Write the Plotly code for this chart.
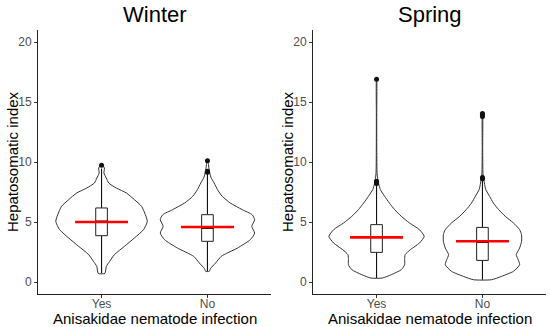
import plotly.graph_objects as go

# ---------------- data ----------------
seasons = ["Winter", "Spring"]
groups = ["Yes", "No"]

# violin density profiles (y level, relative density)
winter_yes_y = [0.72, 1.3, 1.72, 2.28, 2.97, 3.67, 4.36, 5.05, 5.6, 6.3, 6.86, 7.42, 7.83, 8.25, 8.66, 9.08, 9.5, 9.78]
winter_yes_d = [0.07, 0.10, 0.17, 0.27, 0.48, 0.69, 0.88, 0.96, 0.92, 0.84, 0.69, 0.52, 0.31, 0.15, 0.10, 0.05, 0.06, 0.01]
winter_no_y = [0.89, 1.1, 1.58, 2.14, 2.83, 3.53, 4.08, 4.64, 5.19, 5.6, 6.03, 6.58, 7.14, 7.7, 8.25, 8.75, 9.5, 10.19]
winter_no_d = [0.04, 0.06, 0.17, 0.29, 0.63, 0.90, 0.99, 0.93, 0.99, 0.94, 0.73, 0.48, 0.31, 0.21, 0.14, 0.07, 0.03, 0.005]
spring_yes_y = [0.33, 0.61, 1.03, 1.44, 1.86, 2.28, 2.69, 3.25, 3.8, 4.36, 4.92, 5.47, 6.03, 6.58, 7.14, 7.7, 8.25, 9.0, 11.0, 14.0, 16.9]
spring_yes_d = [0.12, 0.31, 0.52, 0.59, 0.59, 0.60, 0.71, 0.90, 1.0, 0.90, 0.69, 0.52, 0.38, 0.27, 0.17, 0.08, 0.04, 0.012, 0.005, 0.004, 0.002]
spring_no_y = [0.19, 0.47, 0.89, 1.44, 1.86, 2.28, 2.83, 3.39, 3.94, 4.36, 4.92, 5.47, 6.03, 6.58, 7.14, 7.7, 8.25, 9.0, 11.0, 14.1]
spring_no_d = [0.19, 0.40, 0.65, 0.78, 0.75, 0.71, 0.78, 0.82, 0.82, 0.78, 0.65, 0.48, 0.34, 0.23, 0.15, 0.07, 0.04, 0.012, 0.005, 0.002]

# box statistics per season, in order Yes, No
winter_q1 = [3.86, 3.39]
winter_median = [5.05, 4.50]
winter_q3 = [6.17, 5.61]
winter_low = [0.72, 0.89]
winter_high = [9.45, 9.0]
winter_mean = [5.00, 4.58]
winter_out_yes = [9.72]
winter_out_no = [9.14, 9.22, 10.1]

spring_q1 = [2.47, 1.80]
spring_median = [3.75, 3.33]
spring_q3 = [4.78, 4.55]
spring_low = [0.33, 0.19]
spring_high = [8.1, 8.5]
spring_mean = [3.72, 3.39]
spring_out_yes = [8.2, 8.3, 8.4, 16.9]
spring_out_no = [8.6, 8.7, 13.8, 13.95, 14.05]

yticks = [0, 5, 10, 15, 20]

# ---------------- figure ----------------
W, H = 550, 327
FONT = "Liberation Sans, Arial, sans-serif"
HALF = 0.45      # violin half width (category units) for density 1
MEAN_HALF = 0.25
BOX_HALF = 0.055

fig = go.Figure()

panels = [
    dict(ax="x", ay="y", prof=[(winter_yes_y, winter_yes_d), (winter_no_y, winter_no_d)],
         q1=winter_q1, med=winter_median, q3=winter_q3, lo=winter_low, hi=winter_high,
         mean=winter_mean, outs=[winter_out_yes, winter_out_no]),
    dict(ax="x2", ay="y2", prof=[(spring_yes_y, spring_yes_d), (spring_no_y, spring_no_d)],
         q1=spring_q1, med=spring_median, q3=spring_q3, lo=spring_low, hi=spring_high,
         mean=spring_mean, outs=[spring_out_yes, spring_out_no]),
]

common = dict(hoverinfo="skip", showlegend=False)

for p in panels:
    axs = dict(xaxis=p["ax"], yaxis=p["ay"])
    # violins
    for i, (ys, ds) in enumerate(p["prof"]):
        c = i + 1
        xs = [c + HALF * d for d in ds] + [c - HALF * d for d in reversed(ds)]
        yy = list(ys) + list(reversed(ys))
        xs.append(xs[0]); yy.append(yy[0])
        fig.add_trace(go.Scatter(x=xs, y=yy, mode="lines", fill="toself", fillcolor="white",
                                 line=dict(color="#333333", width=1, shape="spline", smoothing=0.6),
                                 **axs, **common))
    # whiskers
    wx, wy = [], []
    for i in range(2):
        c = i + 1
        wx += [c, c, None, c, c, None]
        wy += [p["lo"][i], p["q1"][i], None, p["q3"][i], p["hi"][i], None]
    fig.add_trace(go.Scatter(x=wx, y=wy, mode="lines", line=dict(color="#111111", width=1.1),
                             **axs, **common))
    # boxes
    for i in range(2):
        c = i + 1
        bx = [c - BOX_HALF, c + BOX_HALF, c + BOX_HALF, c - BOX_HALF, c - BOX_HALF]
        by = [p["q1"][i], p["q1"][i], p["q3"][i], p["q3"][i], p["q1"][i]]
        fig.add_trace(go.Scatter(x=bx, y=by, mode="lines", fill="toself", fillcolor="white",
                                 line=dict(color="#222222", width=1), **axs, **common))
    # medians
    mdx, mdy = [], []
    for i in range(2):
        c = i + 1
        mdx += [c - BOX_HALF, c + BOX_HALF, None]
        mdy += [p["med"][i], p["med"][i], None]
    fig.add_trace(go.Scatter(x=mdx, y=mdy, mode="lines", line=dict(color="#000000", width=1.8),
                             **axs, **common))
    # means
    mx, my = [], []
    for i, m in enumerate(p["mean"]):
        c = i + 1
        mx += [c - MEAN_HALF, c + MEAN_HALF, None]
        my += [m, m, None]
    fig.add_trace(go.Scatter(x=mx, y=my, mode="lines", line=dict(color="#FF0000", width=2.6),
                             **axs, **common))
    # outliers
    ox, oy = [], []
    for i, o in enumerate(p["outs"]):
        ox += [i + 1] * len(o)
        oy += o
    fig.add_trace(go.Scatter(x=ox, y=oy, mode="markers", marker=dict(color="#111111", size=5),
                             **axs, **common))

x1 = [38 / W, 271 / W]
x2 = [313 / W, 546 / W]
ydom = [1 - 294 / H, 1 - 30 / H]

xcommon = dict(range=[0.4, 2.6], tickvals=[1, 2], ticktext=groups, showgrid=False, zeroline=False,
               showline=True, linecolor="#222222", linewidth=1, ticks="outside", ticklen=3,
               tickcolor="#333333", tickwidth=1, tickfont=dict(family=FONT, size=12, color="#4D4D4D"),
               fixedrange=True, automargin=False, ticklabelstandoff=-4)
ycommon = dict(range=[-1, 21], tickvals=yticks, showgrid=False, zeroline=False,
               showline=True, linecolor="#222222", linewidth=1, ticks="outside", ticklen=3,
               tickcolor="#333333", tickwidth=1, tickfont=dict(family=FONT, size=12, color="#4D4D4D"),
               fixedrange=True, automargin=False)

fig.update_layout(
    template="none",
    width=W, height=H, margin=dict(l=0, r=0, t=0, b=0, autoexpand=False),
    paper_bgcolor="white", plot_bgcolor="white", showlegend=False,
    xaxis=dict(domain=x1, anchor="y", **xcommon),
    yaxis=dict(domain=ydom, anchor="x", **ycommon),
    xaxis2=dict(domain=x2, anchor="y2", **xcommon),
    yaxis2=dict(domain=ydom, anchor="x2", **ycommon),
)

ann = []
for name, cx, yx in [(seasons[0], 155, 12), (seasons[1], 430, 287)]:
    ann.append(dict(text=name, x=cx / W, y=1 - 14 / H, xref="paper", yref="paper",
                    xanchor="center", yanchor="middle", showarrow=False,
                    font=dict(family=FONT, size=22, color="black")))
    ann.append(dict(text="Anisakidae nematode infection", x=cx / W, y=1 - 318 / H, xref="paper",
                    yref="paper", xanchor="center", yanchor="middle", showarrow=False,
                    font=dict(family=FONT, size=15, color="black")))
    ann.append(dict(text="Hepatosomatic index", x=yx / W, y=1 - 162 / H, xref="paper", yref="paper",
                    xanchor="center", yanchor="middle", showarrow=False, textangle=-90,
                    font=dict(family=FONT, size=15, color="black")))
fig.update_layout(annotations=ann)

fig.write_html("out.html", config={"displayModeBar": False},
               post_script="document.body.style.margin='0';document.body.style.overflow='hidden';")
